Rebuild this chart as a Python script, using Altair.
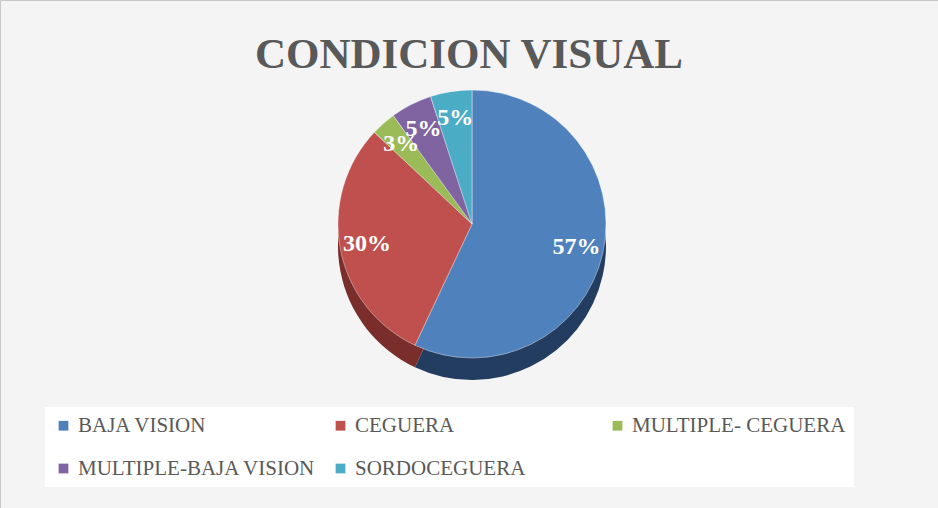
import altair as alt
import pandas as pd

categories = ["BAJA VISION", "CEGUERA", "MULTIPLE- CEGUERA", "MULTIPLE-BAJA VISION", "SORDOCEGUERA"]
values = [57, 30, 3, 5, 5]
labels = ["57%", "30%", "3%", "5%", "5%"]
top_colors = ["#4F81BD", "#C0504D", "#9BBB59", "#8064A2", "#4BACC6"]
side_colors = ["#233D60", "#7A2E2C", "#5E7436", "#4B3A62", "#2C6A7B"]

df = pd.DataFrame({
    "categoria": categories,
    "valor": values,
    "etiqueta": labels,
    "orden": list(range(len(categories))),
})

CX, CY, R, DEPTH = 472, 224, 134, 22

base = alt.Chart(df)

side = base.mark_arc(radius=R).encode(
    theta=alt.Theta("valor:Q", stack=True),
    order=alt.Order("orden:Q"),
    color=alt.Color("categoria:N", sort=categories,
                    scale=alt.Scale(domain=categories, range=side_colors), legend=None),
    x=alt.value(CX), y=alt.value(CY + DEPTH),
)

top = base.mark_arc(radius=R, stroke="#ffffff", strokeWidth=0.4).encode(
    theta=alt.Theta("valor:Q", stack=True),
    order=alt.Order("orden:Q"),
    color=alt.Color("categoria:N", sort=categories,
                    scale=alt.Scale(domain=categories, range=top_colors),
                    legend=alt.Legend(title=None, orient="none", legendX=45, legendY=407,
                                      columns=3, gridAlign="all", direction="horizontal",
                                      symbolType="square", symbolSize=95, symbolStrokeWidth=0,
                                      labelFont="Liberation Serif", labelFontSize=21,
                                      labelColor="#595959", labelLimit=400,
                                      rowPadding=21, columnPadding=14,
                                      fillColor="#ffffff", padding=8)),
    x=alt.value(CX), y=alt.value(CY),
)

text = base.mark_text(radius=107, font="Liberation Serif", fontSize=24,
                      fontWeight="bold", color="#ffffff").encode(
    theta=alt.Theta("valor:Q", stack=True),
    order=alt.Order("orden:Q"),
    text="etiqueta:N",
    x=alt.value(CX), y=alt.value(CY),
)

chart = alt.layer(side, top, text).resolve_scale(color="independent").properties(
    width=938, height=508, padding=0, autosize=alt.AutoSizeParams(type="none"),
    background="#F4F4F4",
    title=alt.TitleParams("CONDICION VISUAL", font="Liberation Serif", fontSize=43,
                          fontWeight="bold", color="#595959", anchor="middle", offset=-77),
).configure_view(stroke="#C8C8C8", strokeWidth=1)

chart.save("out.html", embed_options={"renderer": "svg", "actions": False})
